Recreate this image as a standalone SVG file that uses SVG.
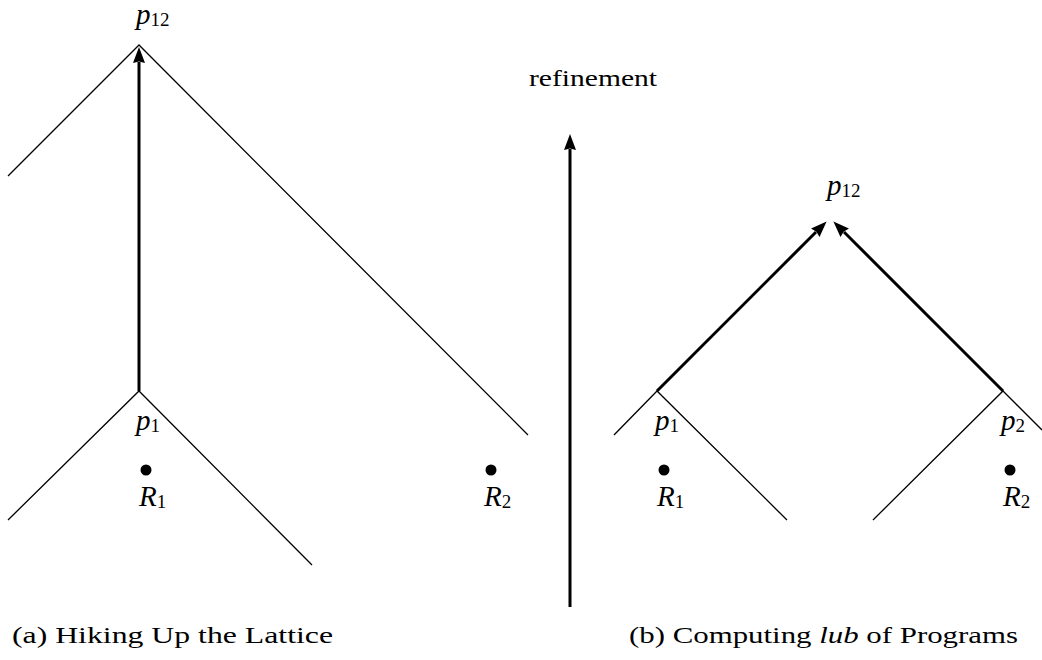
<svg xmlns="http://www.w3.org/2000/svg" width="1042" height="660" viewBox="0 0 1042 660">
<style>
.thin{stroke:#000;stroke-width:1.3;fill:none}
.thick{stroke:#000;stroke-width:3;fill:none}
.m{font-family:"Liberation Serif",serif;font-style:italic;font-size:29px;fill:#000}
.sub{font-family:"Liberation Serif",serif;font-style:normal;font-size:19px}
.t{font-family:"Liberation Serif",serif;font-size:24px;fill:#000}
</style>
<defs>
<marker id="ah" markerWidth="16" markerHeight="12" refX="1" refY="6" orient="auto" markerUnits="userSpaceOnUse">
<path d="M0,0 L16,6 L0,12 L1.5,6 Z" fill="#000"/>
</marker>
</defs>
<rect width="1042" height="660" fill="#fff"/>
<g id="connectors">
<polyline class="thin" points="8,176 139,45 528,435"/>
<polyline class="thin" points="8,520 139,391 312,565"/>
<line class="thick" x1="139" y1="391" x2="139" y2="62" marker-end="url(#ah)"/>
<line class="thick" x1="570" y1="607" x2="570" y2="149" marker-end="url(#ah)"/>
<polyline class="thin" points="614,435 657,391 787,520"/>
<polyline class="thin" points="873,520 1003,391 1042,430"/>
<line class="thick" x1="657" y1="391" x2="816" y2="232" marker-end="url(#ah)"/>
<line class="thick" x1="1003" y1="391" x2="844" y2="232" marker-end="url(#ah)"/>
</g>
<g id="node-a-p12"><text class="m" x="136" y="24">p<tspan class="sub" dy="2">12</tspan></text></g>
<g id="node-a-p1"><text class="m" x="136" y="430">p<tspan class="sub" dy="2">1</tspan></text></g>
<g id="node-a-R1"><circle cx="146" cy="470" r="5.5"/><text class="m" x="139" y="506">R<tspan class="sub" dy="2">1</tspan></text></g>
<g id="node-a-R2"><circle cx="491" cy="470" r="5.5"/><text class="m" x="484" y="506">R<tspan class="sub" dy="2">2</tspan></text></g>
<g id="node-refinement"><text class="t" x="529" y="86" font-size="25" textLength="128" lengthAdjust="spacingAndGlyphs">refinement</text></g>
<g id="node-b-p12"><text class="m" x="827" y="195">p<tspan class="sub" dy="2">12</tspan></text></g>
<g id="node-b-p1"><text class="m" x="655" y="430">p<tspan class="sub" dy="2">1</tspan></text></g>
<g id="node-b-p2"><text class="m" x="1001" y="430">p<tspan class="sub" dy="2">2</tspan></text></g>
<g id="node-b-R1"><circle cx="664" cy="470" r="5.5"/><text class="m" x="657" y="506">R<tspan class="sub" dy="2">1</tspan></text></g>
<g id="node-b-R2"><circle cx="1010" cy="470" r="5.5"/><text class="m" x="1003" y="506">R<tspan class="sub" dy="2">2</tspan></text></g>
<g id="caption-a"><text class="t" x="12" y="643" textLength="321" lengthAdjust="spacingAndGlyphs">(a) Hiking Up the Lattice</text></g>
<g id="caption-b"><text class="t" x="629" y="643" textLength="389" lengthAdjust="spacingAndGlyphs">(b) Computing <tspan font-style="italic">lub</tspan> of Programs</text></g>
</svg>
